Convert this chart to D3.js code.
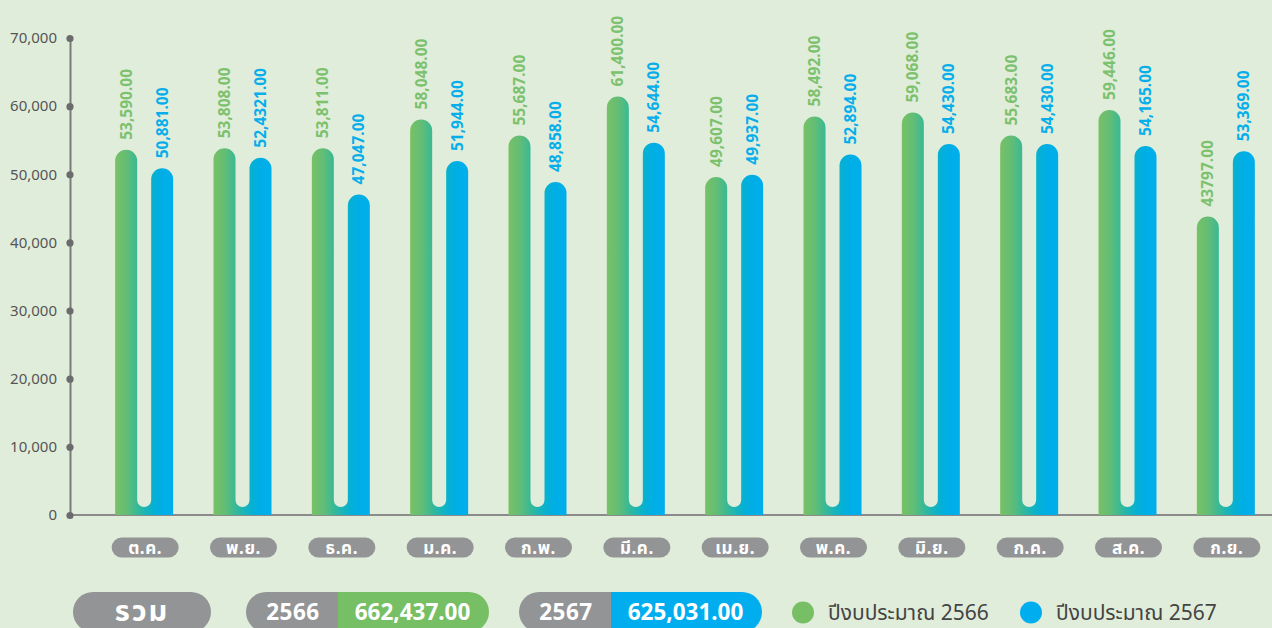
<!DOCTYPE html>
<html>
<head>
<meta charset="utf-8">
<script src="https://cdn.jsdelivr.net/npm/d3@7"></script>
<style>
  html, body { margin: 0; padding: 0; background: #e1eddb; }
  svg { display: block; }
  text { font-family: "Noto Sans", "Noto Sans Thai", "DejaVu Sans", sans-serif; }
</style>
</head>
<body>
<svg id="chart" width="1272" height="628"></svg>
<script>
// Monthly budget figures, fiscal years 2566 and 2567
const months = ["ต.ค.", "พ.ย.", "ธ.ค.", "ม.ค.", "ก.พ.", "มี.ค.", "เม.ย.", "พ.ค.", "มิ.ย.", "ก.ค.", "ส.ค.", "ก.ย."];
const values2566 = [53590, 53808, 53811, 58048, 55687, 61400, 49607, 58492, 59068, 55683, 59446, 43797];
const values2567 = [50881, 52432, 47047, 51944, 48858, 54644, 49937, 52894, 54430, 54430, 54165, 53369];
const labels2566 = ["53,590.00", "53,808.00", "53,811.00", "58,048.00", "55,687.00", "61,400.00", "49,607.00", "58,492.00", "59,068.00", "55,683.00", "59,446.00", "43797.00"];
const labels2567 = ["50,881.00", "52,4321.00", "47,047.00", "51,944.00", "48,858.00", "54,644.00", "49,937.00", "52,894.00", "54,430.00", "54,430.00", "54,165.00", "53,369.00"];
const yTicks = [0, 10000, 20000, 30000, 40000, 50000, 60000, 70000];
const seriesNames = ["2566", "2567"];
const legendLabels = ["ปีงบประมาณ 2566", "ปีงบประมาณ 2567"];
const totalLabel = "รวม";

const GREEN = "#76bf65";
const BLUE = "#00aeef";
const GREY = "#939496";

const svg = d3.select("#chart");

const x = d3.scaleBand().domain(months).range([96, 1276]).padding(0);
const y = d3.scaleLinear().domain([0, 70000]).range([515, 38]);

// Horizontal gradient shared by every bar pair
const defs = svg.append("defs");
const grad = defs.append("linearGradient").attr("id", "pairGrad")
  .attr("x1", "0").attr("x2", "1").attr("y1", "0").attr("y2", "0");
[[0, "#78c165"], [0.2, "#62bd76"], [0.38, "#38b996"], [0.55, "#15b4bd"], [0.68, "#05b0d6"], [0.8, "#00aee6"], [1, "#00aeec"]]
  .forEach(([o, c]) => grad.append("stop").attr("offset", o).attr("stop-color", c));

// Baseline
svg.append("line")
  .attr("x1", 70).attr("x2", 1272)
  .attr("y1", y(0)).attr("y2", y(0))
  .attr("stroke", "#8b8b8b").attr("stroke-width", 2);

// Y axis
const yAxis = svg.append("g").attr("transform", "translate(70,0)")
  .call(d3.axisLeft(y).tickValues(yTicks).tickFormat(d3.format(",")).tickSize(0).tickSizeOuter(0).tickPadding(13));
yAxis.select(".domain").attr("stroke", "#7b7b7b").attr("stroke-width", 2);
yAxis.selectAll(".tick text")
  .attr("fill", "#555")
  .style("font-size", "15px")
  .style("font-family", "'Noto Sans', sans-serif");
yAxis.selectAll(".tick").append("circle").attr("r", 3.6).attr("fill", "#6b6b6d");

// Sub-band for the two bars inside each month
const xs = d3.scaleBand().domain(seriesNames).range([-30, 28]).paddingInner(14 / 36).paddingOuter(0);
const bw = xs.bandwidth();
const r = bw / 2;
const gapR = (xs("2567") - (xs("2566") + bw)) / 2;

const data = months.map((m, i) => ({ m, a: values2566[i], b: values2567[i], la: labels2566[i], lb: labels2567[i] }));

function pairPath(d) {
  const c = x(d.m) + x.bandwidth() / 2;
  const base = y(0);
  const gx0 = c + xs("2566"), gx1 = gx0 + bw;
  const bx0 = c + xs("2567"), bx1 = bx0 + bw;
  const ya = y(d.a), yb = y(d.b);
  const notch = base - 8;
  const p = d3.path();
  p.moveTo(gx0, base);
  p.lineTo(gx0, ya + r);
  p.arc(gx0 + r, ya + r, r, Math.PI, 0);
  p.lineTo(gx1, notch - gapR);
  p.arc(gx1 + gapR, notch - gapR, gapR, Math.PI, 0, true);
  p.lineTo(bx0, yb + r);
  p.arc(bx0 + r, yb + r, r, Math.PI, 0);
  p.lineTo(bx1, base);
  p.closePath();
  return p.toString();
}

const groups = svg.append("g").selectAll("g").data(data).join("g");

groups.append("path")
  .attr("d", pairPath)
  .attr("fill", "url(#pairGrad)");

// Value labels, rotated above each bar
function valueLabel(sel, key, labKey, series, color) {
  sel.append("text")
    .attr("transform", d => {
      const cx = x(d.m) + x.bandwidth() / 2 + xs(series) + bw / 2;
      return `translate(${cx},${y(d[key]) - 10}) rotate(-90)`;
    })
    .attr("dy", "0.36em")
    .attr("fill", color)
    .style("font-size", "15.5px")
    .style("font-weight", "bold")
    .text(d => d[labKey]);
}
valueLabel(groups, "a", "la", "2566", "#7cc16d");
valueLabel(groups, "b", "lb", "2567", "#08aeea");

// Month pills
const pills = svg.append("g").selectAll("g").data(months).join("g")
  .attr("transform", m => `translate(${x(m) + x.bandwidth() / 2},547.5)`);
pills.append("rect")
  .attr("x", -33.5).attr("y", -10).attr("width", 67).attr("height", 20).attr("rx", 10)
  .attr("fill", GREY);
pills.append("text")
  .attr("text-anchor", "middle").attr("dy", "0.36em")
  .attr("fill", "#fff").style("font-size", "17px").style("font-weight", "bold")
  .style("letter-spacing", "0.6px")
  .text(m => m);

// Totals row
const fmt = d3.format(",.2f");
const totals = [d3.sum(values2566), d3.sum(values2567)];

const rowY = 612;
svg.append("rect").attr("x", 73).attr("y", rowY - 20).attr("width", 138).attr("height", 40).attr("rx", 20).attr("fill", GREY);
svg.append("text").attr("x", 142).attr("y", 621).attr("text-anchor", "middle")
  .attr("fill", "#fff").style("font-size", "29px").style("font-weight", "bold")
  .style("letter-spacing", "2px").text(totalLabel);

const totalBoxes = [
  { name: "2566", total: totals[0], x0: 246, split: 338, x1: 489, color: GREEN },
  { name: "2567", total: totals[1], x0: 519, split: 611, x1: 762, color: BLUE }
];
totalBoxes.forEach(t => {
  const g = svg.append("g");
  const clipId = "clip" + t.name;
  defs.append("clipPath").attr("id", clipId)
    .append("rect").attr("x", t.x0).attr("y", rowY - 20).attr("width", t.x1 - t.x0).attr("height", 40).attr("rx", 20);
  g.attr("clip-path", `url(#${clipId})`);
  g.append("rect").attr("x", t.x0).attr("y", rowY - 20).attr("width", t.split - t.x0).attr("height", 40).attr("fill", GREY);
  g.append("rect").attr("x", t.split).attr("y", rowY - 20).attr("width", t.x1 - t.split).attr("height", 40).attr("fill", t.color);
  svg.append("text").attr("x", (t.x0 + t.split) / 2 + 1).attr("y", rowY).attr("dy", "0.36em").attr("text-anchor", "middle")
    .attr("fill", "#fff").style("font-size", "22.5px").style("font-weight", "bold").style("letter-spacing", "0.5px").text(t.name);
  svg.append("text").attr("x", (t.split + t.x1) / 2 - 1).attr("y", rowY).attr("dy", "0.36em").attr("text-anchor", "middle")
    .attr("fill", "#fff").style("font-size", "22.5px").style("font-weight", "bold").text(fmt(t.total));
});

// Legend
const legend = [
  { label: legendLabels[0], color: GREEN, cx: 803 },
  { label: legendLabels[1], color: BLUE, cx: 1031 }
];
legend.forEach(l => {
  svg.append("circle").attr("cx", l.cx).attr("cy", 612.5).attr("r", 11).attr("fill", l.color);
  svg.append("text").attr("x", l.cx + 25).attr("y", 612.5).attr("dy", "0.36em")
    .attr("fill", "#444").style("font-size", "21px").text(l.label);
});
</script>
</body>
</html>
